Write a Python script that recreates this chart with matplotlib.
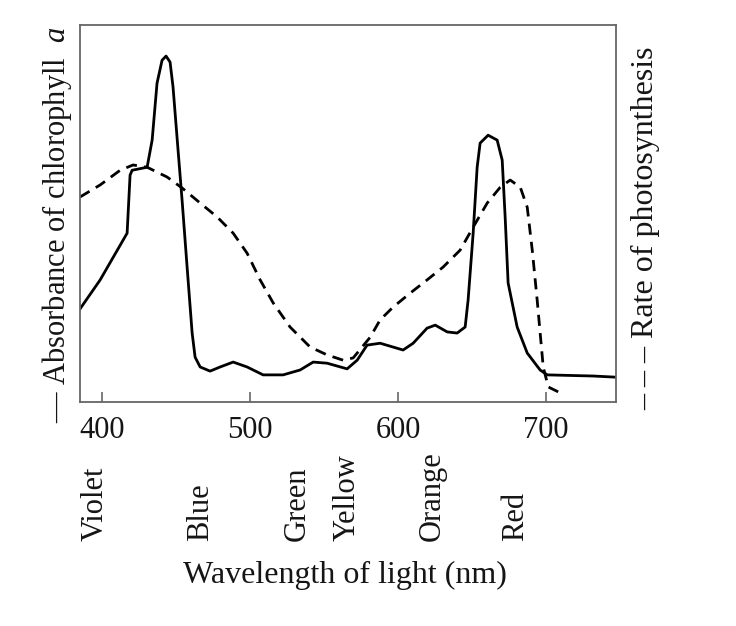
import matplotlib
matplotlib.use('Agg')
import matplotlib.pyplot as plt

plt.rcParams['font.family'] = ['Liberation Serif', 'DejaVu Serif']
plt.rcParams['mathtext.fontset'] = 'custom'
plt.rcParams['mathtext.it'] = 'Liberation Serif:italic'
plt.rcParams['mathtext.rm'] = 'Liberation Serif'

# absorbance of chlorophyll a (arbitrary units, 0-100)
abs_nm = [385.3, 398.9, 412.4, 417.1, 419.1, 420.5, 430.6, 434.0, 437.3, 440.7,
          443.4, 446.1, 448.1, 451.5, 454.2, 457.6, 461.0, 463.0, 466.4, 473.1,
          479.9, 488.7, 498.1, 508.9, 522.4, 533.9, 542.7, 552.1, 565.6, 572.4,
          579.1, 587.9, 603.4, 610.2, 619.6, 625.1, 633.2, 639.9, 645.3, 647.3,
          650.7, 653.4, 655.4, 660.8, 666.9, 670.3, 672.3, 674.3, 680.4, 687.2,
          695.9, 700.7, 731.7, 746.6]
abs_val = [24.7, 32.4, 41.6, 44.8, 60.2, 61.5, 62.3, 69.5, 84.6, 90.7,
           91.8, 90.2, 83.6, 66.8, 53.6, 35.8, 18.3, 11.9, 9.3, 8.2,
           9.3, 10.6, 9.3, 7.2, 7.2, 8.5, 10.6, 10.3, 8.8, 11.1,
           15.1, 15.6, 13.8, 15.6, 19.6, 20.4, 18.6, 18.3, 19.9, 27.1,
           44.8, 62.3, 68.7, 70.8, 69.5, 64.2, 49.1, 31.6, 19.9, 13.0,
           8.5, 7.2, 6.9, 6.6]

# rate of photosynthesis (arbitrary units, 0-100)
rate_nm = [385.3, 398.9, 412.4, 421.1, 430.6, 444.1, 454.2, 466.4, 477.9, 488.7,
           498.1, 506.9, 515.7, 527.1, 540.6, 552.1, 562.9, 569.7, 581.2, 587.9,
           596.7, 608.2, 619.6, 630.4, 641.9, 650.7, 660.2, 669.0, 675.7, 682.5,
           687.2, 690.6, 693.9, 698.0, 701.4, 708.1]
rate_val = [54.4, 57.6, 61.5, 62.9, 62.3, 59.7, 56.8, 52.8, 49.1, 44.8,
            39.5, 32.4, 26.3, 19.9, 14.6, 12.5, 11.1, 11.7, 17.2, 21.8,
            25.2, 28.9, 32.4, 35.8, 40.3, 46.4, 52.8, 57.0, 58.9, 57.0,
            51.7, 40.3, 27.1, 9.3, 4.0, 2.7]

tick_vals = [400, 500, 600, 700]
color_names = ['Violet', 'Blue', 'Green', 'Yellow', 'Orange', 'Red']
color_pos = [395.5, 467, 532, 565.5, 623, 679]

txt = '#151515'

fig = plt.figure(figsize=(7.36, 6.26), dpi=100)
ax = fig.add_axes([0.1087, 0.3578, 0.728, 0.602])

ax.plot(abs_nm, abs_val, color='black', lw=2.0, solid_joinstyle='round')
ax.plot(rate_nm, rate_val, color='black', lw=2.0, dashes=(4, 2.6))

ax.set_xlim(385.3, 747)
ax.set_ylim(0, 100)
ax.set_xticks(tick_vals)
ax.set_yticks([])
ax.tick_params(axis='x', direction='in', length=7, width=1.2, color='#666666',
               labelsize=22, pad=10, labelcolor=txt)
for s in ax.spines.values():
    s.set_color('#666666')
    s.set_linewidth(1.3)

# colour names under the axis
for name, x in zip(color_names, color_pos):
    ax.text(x, -0.369, name, transform=ax.get_xaxis_transform(), rotation=90,
            ha='center', va='bottom', fontsize=22, color=txt)

fig.text(345 / 736, 1 - 575 / 626, 'Wavelength of light (nm)', ha='center', va='center',
         fontsize=23, color=txt)
fig.text(57 / 736, 1 - 225 / 626, '— Absorbance of chlorophyll  $a$', rotation=90,
         ha='center', va='center', fontsize=22, color=txt)
fig.text(646 / 736, 1 - 228 / 626, '– – – Rate of photosynthesis', rotation=90,
         ha='center', va='center', fontsize=23, color=txt)

fig.savefig('out.png', dpi=100)
